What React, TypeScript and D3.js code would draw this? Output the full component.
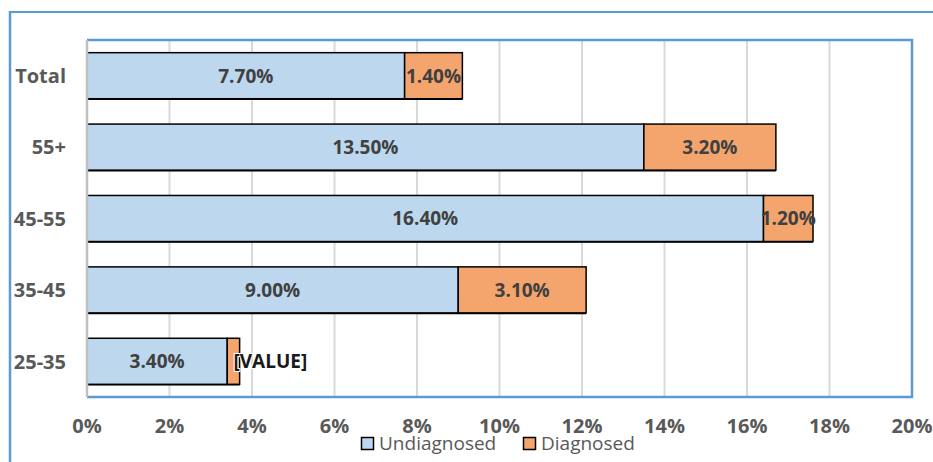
import React from "react";
import * as d3 from "d3";

const categories = ["Total", "55+", "45-55", "35-45", "25-35"];
const undiagnosed = [7.7, 13.5, 16.4, 9.0, 3.4];
const diagnosed = [1.4, 3.2, 1.2, 3.1, 0.3];
const diagnosedLabels = ["1.40%", "3.20%", "1.20%", "3.10%", "[VALUE]"];
const xTicks = [0, 2, 4, 6, 8, 10, 12, 14, 16, 18, 20];
const seriesNames = ["Undiagnosed", "Diagnosed"];

const W = 933;
const H = 462;
const plot = { left: 87, right: 912, top: 40, bottom: 397 };
const BLUE = "#bdd7ee";
const ORANGE = "#f4a56e";
const FRAME = "#5b9bd5";
const FONT = "'Open Sans', sans-serif";

export default function App() {
  const x = d3.scaleLinear().domain([0, 20]).range([plot.left, plot.right]);
  const y = d3
    .scaleBand<string>()
    .domain(categories)
    .range([plot.top, plot.bottom])
    .paddingInner(0.355)
    .paddingOuter(0.1775);
  const bw = y.bandwidth();

  return (
    <svg
      width={W}
      height={H}
      style={{ position: "fixed", left: 0, top: 0, background: "#fff" }}
      fontFamily={FONT}
    >
      <rect x={0} y={0} width={W} height={H} fill="#fff" />
      {/* outer frame */}
      <line x1={10} x2={W} y1={12} y2={12} stroke={FRAME} strokeWidth={2} />
      <line x1={10} x2={10} y1={11} y2={H} stroke={FRAME} strokeWidth={2.5} />

      {/* gridlines */}
      {xTicks.slice(1, -1).map((t) => (
        <line
          key={t}
          x1={x(t)}
          x2={x(t)}
          y1={plot.top}
          y2={plot.bottom}
          stroke="#d9d9d9"
          strokeWidth={2}
        />
      ))}

      {/* bars */}
      {categories.map((c, i) => {
        const y0 = y(c)!;
        const u = undiagnosed[i];
        const d = diagnosed[i];
        return (
          <g key={c}>
            <rect
              x={x(0)}
              y={y0}
              width={x(u) - x(0)}
              height={bw}
              fill={BLUE}
              stroke="#000"
              strokeWidth={1.5}
            />
            <rect
              x={x(u)}
              y={y0}
              width={x(u + d) - x(u)}
              height={bw}
              fill={ORANGE}
              stroke="#000"
              strokeWidth={1.5}
            />
            <line x1={x(0)} x2={x(u + d)} y1={y0 + bw + 0.5} y2={y0 + bw + 0.5} stroke="#000" strokeWidth={1.5} />
          </g>
        );
      })}

      {/* plot frame */}
      <path
        d={`M${plot.left},${plot.top} H${plot.right} V${plot.bottom} H${plot.left}`}
        fill="none"
        stroke={FRAME}
        strokeWidth={2.5}
      />
      <line
        x1={plot.left}
        x2={plot.left}
        y1={plot.top}
        y2={plot.bottom}
        stroke="#bfbfbf"
        strokeWidth={2.5}
      />

      {/* data labels */}
      {categories.map((c, i) => {
        const yc = y(c)! + bw / 2;
        const u = undiagnosed[i];
        const d = diagnosed[i];
        const isPlaceholder = diagnosedLabels[i].startsWith("[");
        return (
          <g key={c} fontWeight="bold" fontSize={19}>
            <text x={(x(0) + x(u)) / 2} y={yc} dy="0.36em" textAnchor="middle" fill="#404040">
              {u.toFixed(2) + "%"}
            </text>
            {isPlaceholder ? (
              <text
                x={(x(u) + x(u + d)) / 2}
                y={yc}
                dy="0.36em"
                textAnchor="start"
                fill="#1a1a1a"
                stroke="#fff"
                strokeWidth={2}
                paintOrder="stroke"
              >
                {diagnosedLabels[i]}
              </text>
            ) : (
              <text x={(x(u) + x(u + d)) / 2} y={yc} dy="0.36em" textAnchor="middle" fill="#404040">
                {diagnosedLabels[i]}
              </text>
            )}
          </g>
        );
      })}

      {/* y labels */}
      {categories.map((c) => (
        <text
          key={c}
          x={66}
          y={y(c)! + bw / 2}
          dy="0.36em"
          textAnchor="end"
          fontWeight="bold"
          fontSize={20}
          fill="#595959"
        >
          {c}
        </text>
      ))}

      {/* x tick labels */}
      {xTicks.map((t) => (
        <text
          key={t}
          x={x(t)}
          y={433}
          textAnchor="middle"
          fontWeight="bold"
          fontSize={20}
          fill="#595959"
        >
          {t + "%"}
        </text>
      ))}

      {/* legend */}
      <g fontSize={19} fill="#595959">
        <rect x={361.5} y={437.5} width={12} height={12} fill={BLUE} stroke="#000" strokeWidth={1.5} />
        <text x={379} y={450}>{seriesNames[0]}</text>
        <rect x={523.5} y={437.5} width={12} height={12} fill={ORANGE} stroke="#000" strokeWidth={1.5} />
        <text x={541} y={450}>{seriesNames[1]}</text>
      </g>
    </svg>
  );
}
